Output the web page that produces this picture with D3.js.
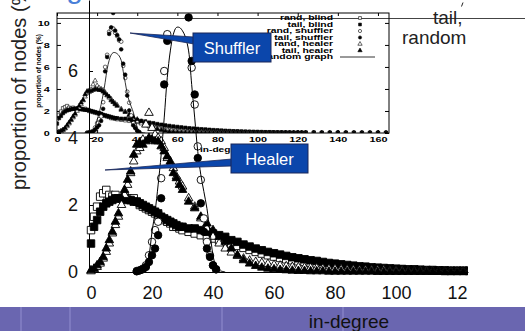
<!DOCTYPE html>
<html>
<head>
<meta charset="utf-8">
<script src="https://cdn.jsdelivr.net/npm/d3@7"></script>
<style>
  body { margin: 0; background: #fff; }
  svg { display: block; font-family: "Liberation Sans", Arial, sans-serif; }
</style>
</head>
<body>
<svg id="chart" width="525" height="331"></svg>
<script>
// degree values shared by the blind and healer series
const degrees = [0,1,2,3,4,5,6,7,8,9,10,11,12,13,14,15,16,17,18,19,20,21,22,23,24,25,26,27,28,29,30,
  32,34,36,38,40,42,44,46,48,50,52,54,56,58,60,62,64,66,68,70,72,74,76,78,80,82,84,86,88,90,
  92,94,96,98,100,102,104,106,108,110,112,114,116,118,120,122,124,
  128,132,136,140,144,148,152,156,160,164];

const randBlind = [1.25,1.65,1.95,2.25,2.35,2.45,2.3,2.25,2.3,2.2,2.2,2.25,2.2,2.15,2.2,2.1,2.0,1.95,1.9,1.85,1.8,1.75,1.7,1.6,1.55,1.5,1.45,1.35,1.35,1.3,1.25,
  1.2,1.15,1.1,1.05,1.0,0.95,0.9,0.85,0.78,0.72,0.66,0.6,0.55,0.5,0.46,0.42,0.38,0.35,0.32,0.3,0.27,0.25,0.23,0.21,0.19,0.17,0.16,0.14,0.13,0.12,
  0.11,0.1,0.09,0.08,0.08,0.07,0.06,0.06,0.05,0.05,0.04,0.04,0.03,0.03,0.03,0.03,0.03,
  0.03,0.02,0.02,0.02,0.02,0.02,0.01,0.01,0.01,0.01];

const tailBlind = [0.85,1.35,1.55,1.8,1.95,2.05,2.1,2.15,2.2,2.2,2.2,2.2,2.15,2.15,2.1,2.1,2.05,2.0,1.95,1.9,1.85,1.8,1.75,1.65,1.6,1.55,1.5,1.45,1.4,1.35,1.35,
  1.3,1.3,1.25,1.2,1.15,1.1,1.05,0.95,0.9,0.82,0.76,0.7,0.65,0.6,0.56,0.52,0.48,0.44,0.41,0.38,0.35,0.33,0.3,0.27,0.25,0.23,0.21,0.19,0.17,0.16,
  0.14,0.13,0.12,0.11,0.1,0.09,0.08,0.08,0.07,0.06,0.06,0.05,0.05,0.04,0.04,0.04,0.04,
  0.04,0.03,0.03,0.03,0.03,0.02,0.02,0.02,0.02,0.02];

const randHealer = [0.02,0.08,0.15,0.25,0.4,0.6,0.85,1.15,1.4,1.65,2.0,2.3,2.6,2.95,3.3,3.6,3.7,3.95,4.4,4.75,4.3,4.1,4.0,3.9,3.7,3.4,3.2,3.1,2.85,2.7,2.55,
  2.2,1.95,1.6,1.3,1.05,0.85,0.7,0.58,0.48,0.4,0.34,0.3,0.27,0.24,0.21,0.19,0.17,0.15,0.14,0.13,0.12,0.11,0.1,0.09,0.09,0.08,0.07,0.07,0.06,0.06,
  0.05,0.05,0.05,0.04,0.04,0.04,0.03,0.03,0.03,0.03,0.02,0.02,0.02,0.02,0.02,0.02,0.02,
  0.02,0.01,0.01,0.01,0.01,0.01,0.01,0.01,0.01,0.01];

const tailHealer = [0.05,0.1,0.2,0.3,0.45,0.7,0.95,1.2,1.5,1.75,2.2,2.45,2.75,3.0,3.5,3.8,3.85,3.8,3.9,4.0,3.95,3.9,3.9,3.75,3.6,3.45,3.3,2.95,2.8,2.6,2.45,
  2.1,1.9,1.65,1.45,1.25,1.05,0.9,0.7,0.5,0.35,0.25,0.18,0.13,0.1,0.08,0.06,0.05,0.04,0.03,0.03,0.02,0.02,0.02,0.01,0.01,0.01,0.01,0.01,0.01,0.01,
  0.01,0,0,0,0,0,0,0,0,0,0,0,0,0,0,0,0,
  0,0,0,0,0,0,0,0,0,0];

const shufflerDegrees = [15,16,17,18,19,20,21,22,23,24,25,26,27,28,29,30,31,32,33,34,35,36,37,38,39,40,41];
const randShuffler = [0.03,0.05,0.1,0.2,0.5,0.9,1.25,1.5,2.8,6.0,7.1,9.2,9.4,9.5,9.1,8.8,8.4,8.3,6.1,5.0,3.75,2.75,1.6,0.9,0.5,0.2,0.08];
const tailShuffler = [0.02,0.05,0.08,0.15,0.3,0.5,0.7,1.1,2.2,5.6,6.9,9.0,9.6,10.9,9.3,8.9,8.5,7.6,6.3,5.3,3.4,2.05,1.2,0.7,0.45,0.2,0.08];

const graphDegrees = [14,15,16,17,18,19,20,21,22,23,24,25,26,27,28,29,30,31,32,33,34,35,36,37,38,39,40,41,42,43,44];
const randomGraph = [0,0.01,0.02,0.05,0.2,0.5,1.2,1.8,2.6,3.5,4.6,5.8,6.6,7.1,7.3,7.3,7.2,7.0,6.6,5.6,4.6,3.6,2.9,2.4,1.9,1.2,0.5,0.15,0.05,0.02,0];

const mainXTicks = [0, 20, 40, 60, 80, 100, 120];
const mainXTickLabels = ["0", "20", "40", "60", "80", "100", "12"];
const mainYTicks = [0, 2, 4, 6];
const insetXTicks = [0, 20, 40, 60, 80, 100, 120, 140, 160];
const insetYTicks = [0, 2, 4, 6, 8, 10];
const legendLabels = ["rand, blind", "tail, blind", "rand, shuffler", "tail, shuffler", "rand, healer", "tail, healer", "random graph"];

const svg = d3.select("#chart");
const defs = svg.append("defs");

// slide decorations (title sits above the visible area, only its bottom shows)
svg.append("text")
    .attr("x", 28).attr("y", -2)
    .attr("font-size", 30)
    .attr("fill", "#4a7fd8")
    .text("Degree distributions");

svg.append("rect")
    .attr("x", 0).attr("y", 307).attr("width", 525).attr("height", 24)
    .attr("fill", "#6a66b0");
[21, 70, 222, 343].forEach(x => {
    svg.append("line")
        .attr("x1", x).attr("x2", x).attr("y1", 307).attr("y2", 331)
        .attr("stroke", "#8c88cc").attr("stroke-width", 1.2);
});
svg.append("text")
    .attr("x", 349).attr("y", 328)
    .attr("text-anchor", "middle")
    .attr("font-size", 19)
    .attr("fill", "#111")
    .text("in-degree");

svg.append("line")
    .attr("x1", 57).attr("x2", 525).attr("y1", 18.5).attr("y2", 18.5)
    .attr("stroke", "#444").attr("stroke-width", 1);
svg.append("text").attr("x", 433).attr("y", 24).attr("font-size", 19).attr("fill", "#222").text("tail,");
svg.append("text").attr("x", 402).attr("y", 44).attr("font-size", 19).attr("fill", "#222").text("random");
svg.append("line")
    .attr("x1", 463).attr("y1", 2.5).attr("x2", 461.5).attr("y2", 6.5)
    .attr("stroke", "#222").attr("stroke-width", 1);

const symbolPath = (type, size) => d3.symbol().type(type).size(size)();

const drawMarks = (g, x, y, xs, vs, type, filled, size, sw) => {
    g.append("g").selectAll("path")
        .data(xs.map((d, i) => [d, vs[i]]))
        .join("path")
        .attr("transform", d => `translate(${x(d[0])},${y(d[1])})`)
        .attr("d", symbolPath(type, size))
        .attr("fill", filled ? "#000" : "#fff")
        .attr("stroke", "#000")
        .attr("stroke-width", sw);
};

// ---------- inset (small original figure) ----------
const xIn = d3.scaleLinear().domain([0, 165.5]).range([57, 389]);
const yIn = d3.scaleLinear().domain([0, 10.9]).range([133, 13]);

defs.append("clipPath").attr("id", "clipInset")
    .append("rect").attr("x", 57).attr("y", 13).attr("width", 332).attr("height", 120);

const inset = svg.append("g").attr("class", "inset");
inset.append("rect")
    .attr("x", 57).attr("y", 13).attr("width", 332).attr("height", 120)
    .attr("fill", "none").attr("stroke", "#000").attr("stroke-width", 1);

const stretch = sel => sel.attr("transform", "scale(1.45,1)");

inset.append("g")
    .attr("transform", "translate(0,133)")
    .call(d3.axisBottom(xIn).tickValues(insetXTicks).tickSizeInner(-3).tickSizeOuter(0).tickPadding(4))
    .call(g => g.select(".domain").remove())
    .call(g => g.selectAll("text").attr("font-size", 7.5).attr("font-weight", "bold").attr("fill", "#000").call(stretch));
inset.append("g")
    .attr("transform", "translate(0,13)")
    .call(d3.axisTop(xIn).tickValues(insetXTicks).tickSizeInner(-3).tickSizeOuter(0).tickFormat(""))
    .call(g => g.select(".domain").remove());
inset.append("g")
    .attr("transform", "translate(57,0)")
    .call(d3.axisLeft(yIn).tickValues(insetYTicks).tickSizeInner(-4).tickSizeOuter(0).tickPadding(5))
    .call(g => g.select(".domain").remove())
    .call(g => g.selectAll("text").attr("font-size", 7.5).attr("font-weight", "bold").attr("fill", "#000").call(stretch));
inset.append("g")
    .attr("transform", "translate(389,0)")
    .call(d3.axisRight(yIn).tickValues(insetYTicks).tickSizeInner(-4).tickSizeOuter(0).tickFormat(""))
    .call(g => g.select(".domain").remove());

inset.append("text")
    .attr("transform", "translate(200,152) scale(1.45,1)")
    .attr("font-size", 7).attr("font-weight", "bold")
    .text("in-degree");
inset.append("text")
    .attr("transform", "translate(41,71) rotate(-90)")
    .attr("text-anchor", "middle")
    .attr("font-size", 6.5).attr("font-weight", "bold")
    .text("proportion of nodes (%)");

const insetMarks = inset.append("g").attr("clip-path", "url(#clipInset)");
drawMarks(insetMarks, xIn, yIn, degrees, randBlind, d3.symbolSquare, false, 11, 0.6);
drawMarks(insetMarks, xIn, yIn, degrees, tailBlind, d3.symbolSquare, true, 11, 0.6);
drawMarks(insetMarks, xIn, yIn, degrees, randHealer, d3.symbolTriangle, false, 9, 0.6);
drawMarks(insetMarks, xIn, yIn, degrees, tailHealer, d3.symbolTriangle, true, 9, 0.6);
drawMarks(insetMarks, xIn, yIn, shufflerDegrees, randShuffler, d3.symbolCircle, false, 11, 0.6);
drawMarks(insetMarks, xIn, yIn, shufflerDegrees, tailShuffler, d3.symbolCircle, true, 11, 0.6);
insetMarks.append("path")
    .datum(graphDegrees.map((d, i) => [d, randomGraph[i]]))
    .attr("fill", "none").attr("stroke", "#000").attr("stroke-width", 0.8)
    .attr("d", d3.line().curve(d3.curveCatmullRom).x(d => xIn(d[0])).y(d => yIn(d[1])));

// inset legend
const legendTypes = [
    [d3.symbolSquare, false], [d3.symbolSquare, true],
    [d3.symbolCircle, false], [d3.symbolCircle, true],
    [d3.symbolTriangle, false], [d3.symbolTriangle, true]
];
const legendY = d3.scalePoint().domain(legendLabels).range([18, 57]);
legendLabels.forEach((label, i) => {
    inset.append("text")
        .attr("transform", `translate(333,${legendY(label) + 2}) scale(1.6,1)`)
        .attr("text-anchor", "end")
        .attr("font-size", 6.5).attr("font-weight", "bold")
        .text(label);
    if (i < legendTypes.length) {
        inset.append("path")
            .attr("transform", `translate(360,${legendY(label)})`)
            .attr("d", symbolPath(legendTypes[i][0], 8))
            .attr("fill", legendTypes[i][1] ? "#000" : "#fff")
            .attr("stroke", "#000").attr("stroke-width", 0.6);
    } else {
        inset.append("line")
            .attr("x1", 340).attr("x2", 375)
            .attr("y1", legendY(label)).attr("y2", legendY(label))
            .attr("stroke", "#000").attr("stroke-width", 0.8);
    }
});

// ---------- main chart ----------
const x = d3.scaleLinear().domain([-0.66, 123.6]).range([89, 468]);
const y = d3.scaleLinear().domain([0, 8.12]).range([272, 0]);

defs.append("clipPath").attr("id", "clipMain")
    .append("rect").attr("x", 80).attr("y", 0).attr("width", 388).attr("height", 282);

const main = svg.append("g").attr("class", "main");

main.append("g")
    .attr("transform", "translate(0,272)")
    .call(d3.axisBottom(x).tickValues(mainXTicks).tickSizeInner(0).tickSizeOuter(0).tickPadding(14)
        .tickFormat((d, i) => mainXTickLabels[i]))
    .call(g => g.select(".domain").attr("stroke", "#000"))
    .call(g => g.selectAll("text").attr("font-size", 18).attr("fill", "#111"));

main.append("g")
    .attr("transform", "translate(89,0)")
    .call(d3.axisLeft(y).tickValues(mainYTicks).tickSizeInner(-4).tickSizeOuter(0).tickPadding(11))
    .call(g => g.select(".domain").attr("stroke", "#000"))
    .call(g => g.selectAll("text").attr("font-size", 18).attr("fill", "#111"));

main.append("text")
    .attr("transform", "translate(26,190) rotate(-90)")
    .attr("font-size", 20)
    .attr("fill", "#222")
    .text("proportion of nodes (%)");

const marks = main.append("g").attr("clip-path", "url(#clipMain)");
drawMarks(marks, x, y, degrees, randBlind, d3.symbolSquare, false, 56, 0.9);
drawMarks(marks, x, y, degrees, tailBlind, d3.symbolSquare, true, 56, 0.9);
drawMarks(marks, x, y, degrees, randHealer, d3.symbolTriangle, false, 32, 0.9);
drawMarks(marks, x, y, degrees, tailHealer, d3.symbolTriangle, true, 32, 0.9);
drawMarks(marks, x, y, shufflerDegrees, randShuffler, d3.symbolCircle, false, 44, 0.9);
drawMarks(marks, x, y, shufflerDegrees, tailShuffler, d3.symbolCircle, true, 44, 0.9);
marks.append("path")
    .datum(graphDegrees.map((d, i) => [d, randomGraph[i]]))
    .attr("fill", "none").attr("stroke", "#000").attr("stroke-width", 1)
    .attr("d", d3.line().curve(d3.curveCatmullRom).x(d => x(d[0])).y(d => y(d[1])));

// ---------- callouts ----------
const callout = (tip, box, label) => {
    const g = svg.append("g");
    g.append("polygon")
        .attr("points", `${tip[0]},${tip[1]} ${box.x + 1},${box.ty1} ${box.x + 1},${box.ty2}`)
        .attr("fill", "#0b46ab").attr("stroke", "#1a2758").attr("stroke-width", 0.8);
    g.append("rect")
        .attr("x", box.x).attr("y", box.y).attr("width", box.w).attr("height", box.h)
        .attr("fill", "#0b46ab").attr("stroke", "#1a2758").attr("stroke-width", 1);
    g.append("text")
        .attr("x", box.x + box.w / 2).attr("y", box.y + box.h / 2 + 6)
        .attr("text-anchor", "middle")
        .attr("font-size", 16.5).attr("fill", "#fff")
        .text(label);
};
callout([130, 33], {x: 193, y: 33, w: 78, h: 29, ty1: 37, ty2: 44}, "Shuffler");
callout([105, 170], {x: 231, y: 144, w: 77, h: 29, ty1: 159, ty2: 166}, "Healer");
</script>
</body>
</html>
